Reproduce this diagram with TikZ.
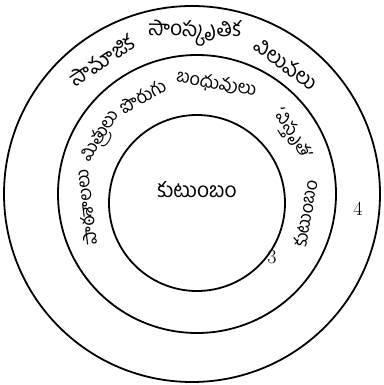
\documentclass[tikz,border=0pt]{standalone}
\usepackage{fontspec}
\newfontfamily\telugu[Script=Telugu]{Hind Guntur}
\usetikzlibrary{calc}

\begin{document}
\begin{tikzpicture}[x=1pt, y=1pt,
    ring/.style={draw, line width=1.8pt},
    word/.style={font=\telugu\fontsize{21}{21}\selectfont, inner sep=0pt},
    small word/.style={word, font=\telugu\fontsize{18}{18}\selectfont},
    num/.style={font=\fontsize{20}{20}\selectfont, inner sep=0pt}
]
\useasboundingbox (0,0) rectangle (383,385);

% centres of the three rings
\coordinate (co) at (192,191);
\coordinate (cm) at (197,191);
\coordinate (ci) at (197,182);

\draw[ring] (co) circle (188);
\draw[ring] (cm) circle (139);
\draw[ring] (ci) circle (88);

\node[word] (family) at (197,195) {కుటుంబం};

% --- outer ring ---
\foreach \w/\a [count=\i] in {సామాజిక/124, సాంస్కృతిక/89, విలువలు/54}
  \node[word, rotate=\a-90] (out\i) at ($(co)+(\a:161)$) {\w};

% --- middle ring ---
\foreach \w/\a [count=\i] in {పాఠశాలలు/187, మిత్రులు/149, పొరుగు/119, బంధువులు/80, ‘విస్తృత’/32}
  \node[small word, rotate=\a-90] (mid\i) at ($(cm)+(\a:112)$) {\w};
\node[small word, rotate=80] (mid6) at ($(cm)+(-10:110)$) {కుటుంబం};

\node[num] (three) at (272,128) {3};
\node[num] (four) at (358,176) {4};

\end{tikzpicture}
\end{document}
